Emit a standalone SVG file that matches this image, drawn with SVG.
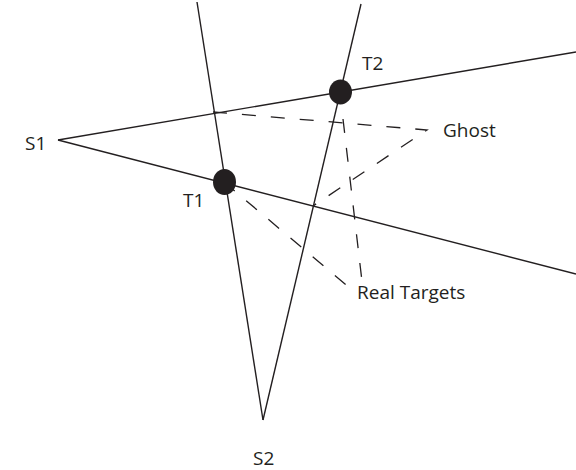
<svg xmlns="http://www.w3.org/2000/svg" width="576" height="470" viewBox="0 0 576 470">
<style>
.ln{stroke:#231f20;stroke-width:1.4;fill:none}
.ds{stroke:#231f20;stroke-width:1.3;fill:none;stroke-dasharray:14 15}
.dot{fill:#231f20}
text{font-family:"Open Sans","Noto Sans",sans-serif;font-size:19px;fill:#231f20}
</style>
<rect width="576" height="470" fill="#fff"/>
<g id="connectors">
<line class="ln" x1="58" y1="140" x2="576" y2="52"/>
<line class="ln" x1="58" y1="140" x2="576" y2="274"/>
<line class="ln" x1="263" y1="420" x2="197" y2="2"/>
<line class="ln" x1="263" y1="420" x2="361" y2="4"/>
<path class="ds" d="M213,112 L427,130 L313,206"/>
<line class="ds" x1="224" y1="182" x2="351" y2="289"/>
<line class="ds" x1="343" y1="119" x2="363" y2="290"/>
</g>
<g id="S1"><text x="25" y="150">S1</text></g>
<g id="S2"><text x="253" y="465">S2</text></g>
<g id="T1"><ellipse class="dot" cx="224.5" cy="182" rx="11.5" ry="13"/><text x="183" y="207">T1</text></g>
<g id="T2"><ellipse class="dot" cx="340.5" cy="92" rx="11.5" ry="12.5"/><text x="362" y="70">T2</text></g>
<g id="Ghost"><text x="443" y="137">Ghost</text></g>
<g id="RealTargets"><text x="357" y="299">Real Targets</text></g>
</svg>
